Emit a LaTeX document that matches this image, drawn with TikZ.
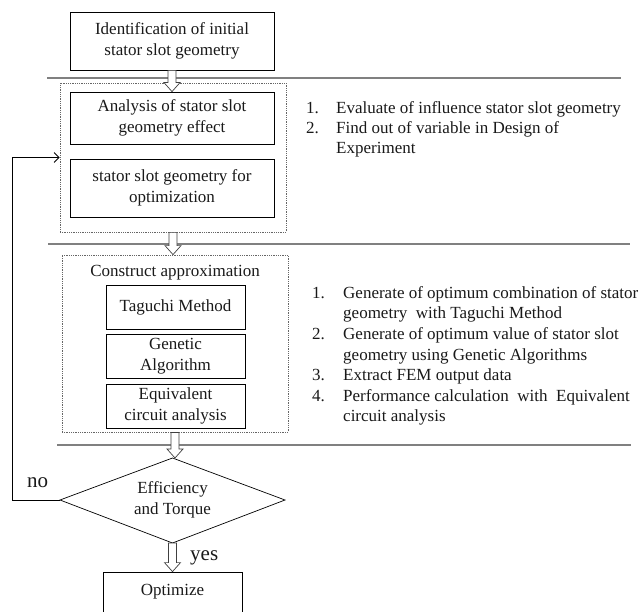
\documentclass[tikz,border=0pt]{standalone}
\usepackage{fontspec}
\setmainfont{Liberation Serif}
\usetikzlibrary{arrows.meta,calc}
\definecolor{rulegray}{HTML}{808080}
\tikzset{
  txt/.style={font=\fontsize{17pt}{20.5pt}\selectfont, text=black!90},
  box/.style={draw=black, line width=0.8pt, txt, align=center, inner sep=0pt},
  dotbox/.style={draw=black!60, densely dotted, line width=0.8pt, inner sep=0pt},
  rule/.style={draw=rulegray, line width=1.5pt},
  blk/.style={draw=black!75, line width=0.7pt, fill=white, line join=miter},
  listline/.style={txt, anchor=base west, inner sep=0pt},
  big/.style={font=\fontsize{21pt}{24pt}\selectfont, text=black!90, inner sep=0pt, anchor=base west},
}
\newcommand\blkarrow[2]{%
  \path[blk] let \p1=(#1), \p2=(#2) in
    (\x1-4pt,\y1) -- (\x1-4pt,\y2+9pt) -- (\x1-8pt,\y2+9pt) -- (\x1,\y2)
    -- (\x1+8pt,\y2+9pt) -- (\x1+4pt,\y2+9pt) -- (\x1+4pt,\y1) -- cycle;}
\begin{document}
\begin{tikzpicture}[x=1pt,y=-1pt]
\useasboundingbox (0,0) rectangle (639,612);

% horizontal separators
\coordinate (r1a) at (47,78);  \coordinate (r1b) at (621,78);
\coordinate (r2a) at (48,244); \coordinate (r2b) at (630,244);
\coordinate (r3a) at (57,445); \coordinate (r3b) at (631,445);
\draw[rule] (r1a) -- (r1b);
\draw[rule] (r2a) -- (r2b);
\draw[rule] (r3a) -- (r3b);

% boxes
\node[box, minimum width=204pt, minimum height=58pt] (top) at (172,41)
  {Identification of initial\\stator slot geometry};
\node[dotbox, minimum width=226pt, minimum height=149pt] (dot1) at (173,157.5) {};
\node[box, minimum width=204pt, minimum height=52pt] (ana) at (172,118)
  {Analysis of stator slot\\geometry effect};
\node[box, minimum width=204pt, minimum height=58pt] (sso) at (172,188)
  {stator slot geometry for\\optimization};

\node[dotbox, minimum width=226pt, minimum height=177pt] (dot2) at (175,343.5) {};
\node[txt, inner sep=0pt] (con) at (175,273) {Construct approximation};
\node[box, minimum width=139pt, minimum height=44pt] (tag) at (175.5,307) {Taguchi Method};
\node[box, minimum width=139pt, minimum height=44pt] (gen) at (175.5,356) {Genetic\\Algorithm};
\node[box, minimum width=139pt, minimum height=44pt] (eqv) at (175.5,406) {Equivalent\\circuit analysis};

% decision diamond
\coordinate (dW) at (60,500);
\coordinate (dE) at (285,500);
\coordinate (dN) at (172.5,458);
\coordinate (dS) at (172.5,543);
\draw[line width=0.7pt, line join=miter] (dW) -- (dN) -- (dE) -- (dS) -- cycle;
\node[txt, align=center, inner sep=0pt] (dia) at (172.5,500) {Efficiency\\and Torque};

\node[box, minimum width=139pt, minimum height=40pt] (opt) at (172.5,592) {Optimize};

% block arrows
\blkarrow{top.south}{ana.north}
\blkarrow{dot1.south}{dot2.north}
\blkarrow{dot2.south}{dN}
\blkarrow{dS}{opt.north}

% feedback
\coordinate (fb) at (12,500);
\draw[line width=0.8pt, -{Straight Barb[length=5pt,width=10pt]}] (dW) -- (fb) |- (dot1.west);

\node[big] (no) at (27,487) {no};
\node[big] (yes) at (190,560) {yes};

% list 1
\node[listline] (n11) at (306,114) {1.};
\node[listline] (t11) at (336,114) {Evaluate of influence stator slot geometry};
\node[listline] (n12) at (306,134) {2.};
\node[listline] (t12) at (336,134) {Find out of variable in Design of};
\node[listline] (t12b) at (336,154) {Experiment};

% list 2
\node[listline] (n21) at (312,298) {1.};
\node[listline] (t21) at (343,298) {Generate of optimum combination of stator};
\node[listline] (t21b) at (343,318) {geometry\ \ with Taguchi Method};
\node[listline] (n22) at (312,339) {2.};
\node[listline] (t22) at (343,339) {Generate of optimum value of stator slot};
\node[listline] (t22b) at (343,360) {geometry using Genetic Algorithms};
\node[listline] (n23) at (312,380) {3.};
\node[listline] (t23) at (343,380) {Extract FEM output data};
\node[listline] (n24) at (312,401) {4.};
\node[listline] (t24) at (343,401) {Performance calculation\ \ with\ \ Equivalent};
\node[listline] (t24b) at (343,421) {circuit analysis};
\end{tikzpicture}
\end{document}
